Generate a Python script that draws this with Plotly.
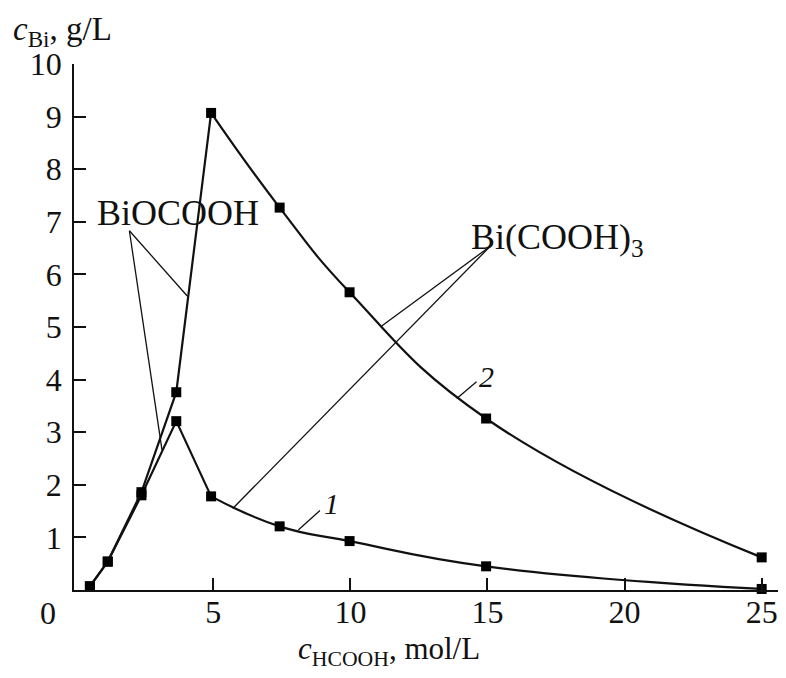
import plotly.graph_objects as go

# ---- data ----
c_hcooh = [0.5, 1.15, 2.38, 3.65, 4.92, 7.42, 9.97, 14.95, 25.0]
c_bi_1 = [0.07, 0.54, 1.80, 3.21, 1.78, 1.21, 0.93, 0.45, 0.02]
c_bi_2 = [0.07, 0.54, 1.86, 3.76, 9.07, 7.27, 5.66, 3.26, 0.62]
bend_index = 4  # straight segments up to here, smoothed afterwards

x_tick_vals = [5, 10, 15, 20, 25]
y_tick_vals = [1, 2, 3, 4, 5, 6, 7, 8, 9, 10]

FONT = "Liberation Serif"
INK = "#111111"

fig = go.Figure()

for ys in (c_bi_1, c_bi_2):
    fig.add_trace(go.Scatter(x=c_hcooh[:bend_index + 1], y=ys[:bend_index + 1],
                             mode="lines", line=dict(color=INK, width=2.2),
                             showlegend=False, hoverinfo="skip", cliponaxis=False))
    fig.add_trace(go.Scatter(x=c_hcooh[bend_index:], y=ys[bend_index:],
                             mode="lines", line=dict(color=INK, width=2.2, shape="spline", smoothing=1.3),
                             showlegend=False, hoverinfo="skip", cliponaxis=False))
    fig.add_trace(go.Scatter(x=c_hcooh, y=ys, mode="markers",
                             marker=dict(symbol="square", size=10, color="black"),
                             showlegend=False, cliponaxis=False))

# leader lines (data coordinates)
leaders = [
    ((1.94, 6.83), (4.05, 5.59)),
    ((1.94, 6.83), (3.13, 2.66)),
    ((15.09, 6.53), (11.14, 5.02)),
    ((15.09, 6.53), (5.71, 1.55)),
    ((14.6, 3.96), (13.88, 3.64)),
    ((8.89, 1.51), (8.1, 1.14)),
]
for (x0, y0), (x1, y1) in leaders:
    fig.add_shape(type="line", x0=x0, y0=y0, x1=x1, y1=y1, xref="x", yref="y",
                  line=dict(color=INK, width=1.3))

annotations = [
    dict(x=3.71, y=7.17, text="BiOCOOH", xref="x", yref="y", font=dict(size=36)),
    dict(x=17.57, y=6.66, text="Bi(COOH)<sub>3</sub>", xref="x", yref="y", font=dict(size=36)),
    dict(x=14.97, y=4.05, text="<i>2</i>", xref="x", yref="y", font=dict(size=30)),
    dict(x=9.32, y=1.64, text="<i>1</i>", xref="x", yref="y", font=dict(size=30)),
    dict(x=-0.0366, y=-0.0428, text="0", xref="paper", yref="paper", font=dict(size=32)),
    dict(x=-0.088, y=1.061, text="<i>c</i><sub>Bi</sub>, g/L", xref="paper", yref="paper",
         xanchor="left", font=dict(size=33)),
    dict(x=0.443, y=-0.116, text="<i>c</i><sub>HCOOH</sub>, mol/L", xref="paper", yref="paper",
         font=dict(size=31)),
]
for a in annotations:
    a.setdefault("xanchor", "center")
    a.setdefault("yanchor", "middle")
    a["showarrow"] = False
    a["font"].update(family=FONT, color=INK)
    fig.add_annotation(**a)

axis_common = dict(showline=True, linecolor=INK, linewidth=1.6, ticks="inside", ticklen=12,
                   tickwidth=1.6, tickcolor=INK, showgrid=False, zeroline=False, automargin=False,
                   tickfont=dict(family=FONT, size=32, color=INK))

fig.update_xaxes(range=[-0.08, 25.85], tickvals=x_tick_vals, ticklabelstandoff=-7, **axis_common)
fig.update_yaxes(range=[0, 10], tickvals=y_tick_vals, ticklabelstandoff=4, **axis_common)

# page body adds an 8px offset; sizes chosen so the plot area lands at the reference position
fig.update_layout(width=778, height=670, margin=dict(l=66, r=1, t=56, b=88),
                  plot_bgcolor="white", paper_bgcolor="white",
                  font=dict(family=FONT, color=INK))

fig.write_html("out.html")
